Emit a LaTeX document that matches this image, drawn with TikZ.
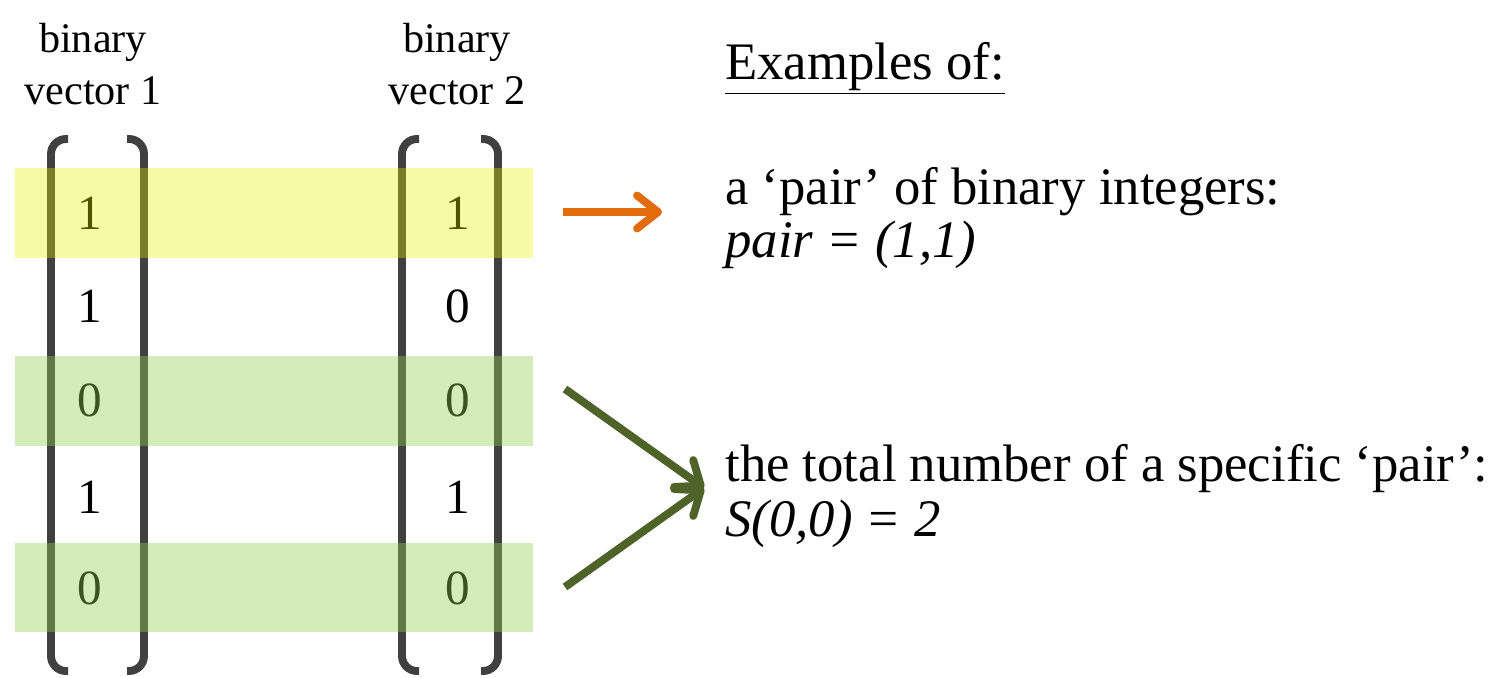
\documentclass[tikz,border=0pt]{standalone}
\usepackage{fontspec}
\setmainfont{Liberation Serif}
\usetikzlibrary{arrows.meta}
\definecolor{VBBracket}{HTML}{404040}
\definecolor{VBYellow}{HTML}{E6F000}
\definecolor{VBGreen}{HTML}{92D050}
\definecolor{VBOrange}{HTML}{E36C0A}
\definecolor{VBOlive}{HTML}{4F6228}

\begin{document}
\begin{tikzpicture}[x=0.02cm,y=-0.02cm,
  bit/.style={inner sep=0pt,font=\fontsize{28}{30}\selectfont},
  head/.style={align=center,inner sep=0pt,font=\fontsize{24}{29.5}\selectfont},
  note/.style={anchor=base west,inner sep=0pt,font=\fontsize{30}{36}\selectfont},
  bracket/.style={VBBracket,line width=4.5pt,rounded corners=0.3cm},
  pointer/.style={line width=4.5pt,-{Straight Barb[round,length=0.42cm,width=0.66cm]}}]
\path[use as bounding box] (0,0) rectangle (1494,678);
% column headers
\node[head] (hd1) at (93,64) {binary\\vector 1};
\node[head] (hd2) at (457,64) {binary\\vector 2};
% brackets
\draw[bracket] (68,139) -- (51,139) -- (51,671) -- (68,671);
\draw[bracket] (127,139) -- (144,139) -- (144,671) -- (127,671);
\draw[bracket] (419,139) -- (402,139) -- (402,671) -- (419,671);
\draw[bracket] (481,139) -- (498,139) -- (498,671) -- (481,671);
% vector 1
\node[bit] (a1) at (90,213) {1};
\node[bit] (a2) at (90,306) {1};
\node[bit] (a3) at (90,400) {0};
\node[bit] (a4) at (90,497) {1};
\node[bit] (a5) at (90,588) {0};
% vector 2
\node[bit] (b1) at (458,213) {1};
\node[bit] (b2) at (458,306) {0};
\node[bit] (b3) at (458,400) {0};
\node[bit] (b4) at (458,497) {1};
\node[bit] (b5) at (458,588) {0};
% highlighted rows
\fill[VBYellow,fill opacity=0.35] (15,168) rectangle (533,258);
\fill[VBGreen,fill opacity=0.4] (15,356) rectangle (533,446);
\fill[VBGreen,fill opacity=0.4] (15,543) rectangle (533,632);
% examples
\node[note] (ex) at (725,80) {\underline{Examples of:}};
\node[note] (pair) at (725,205) {a `pair' of binary integers:};
\node[note] (pairval) at (725,258) {\itshape pair = (1,1)};
\node[note] (total) at (725,482) {the total number of a specific `pair':};
\node[note] (sval) at (725,537) {\itshape S(0,0) = 2};
% arrows
\coordinate (o1) at (563,212);
\coordinate (o2) at (662,212);
\coordinate (g1) at (565,389);
\coordinate (g2) at (565,587);
\coordinate (gtip) at (704,488);
\draw[pointer,VBOrange] (o1) -- (o2);
\draw[pointer,VBOlive] (g1) -- (gtip);
\draw[pointer,VBOlive] (g2) -- (gtip);
\end{tikzpicture}
\end{document}
